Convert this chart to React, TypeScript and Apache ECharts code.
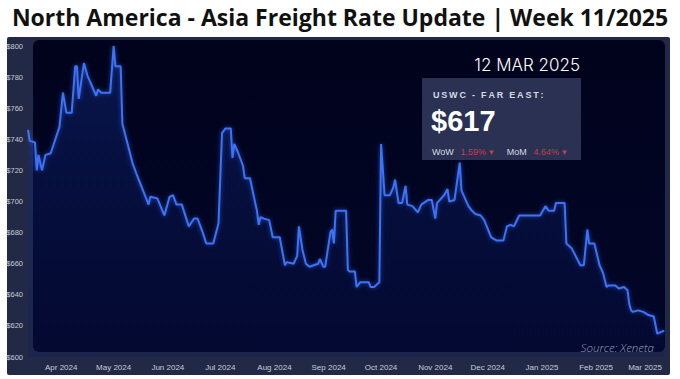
import React, { useEffect, useRef } from "react";
import * as echarts from "echarts";

const titleText = "North America - Asia Freight Rate Update | Week 11/2025";
const dateLabel = "12 MAR 2025";
const laneLabel = "USWC - FAR EAST:";
const currentRate = "$617";
const wowChange = "1.59% ▾";
const momChange = "4.64% ▾";
const sourceText = "Source: Xeneta";

const yTicks = { min: 600, max: 800, step: 20 };
const monthNames = ["Jan", "Feb", "Mar", "Apr", "May", "Jun", "Jul", "Aug", "Sep", "Oct", "Nov", "Dec"];

const dates = [
  "2024-03-13", "2024-03-14", "2024-03-17", "2024-03-18", "2024-03-19", "2024-03-21", "2024-03-23", "2024-03-26",
  "2024-03-31", "2024-04-02", "2024-04-04", "2024-04-07", "2024-04-09", "2024-04-10", "2024-04-11", "2024-04-14",
  "2024-04-16", "2024-04-21", "2024-04-22", "2024-04-24", "2024-04-29", "2024-05-01", "2024-05-02", "2024-05-05",
  "2024-05-06", "2024-05-12", "2024-05-14", "2024-05-21", "2024-05-22", "2024-05-26", "2024-05-30", "2024-06-02",
  "2024-06-04", "2024-06-06", "2024-06-09", "2024-06-13", "2024-06-16", "2024-06-18", "2024-06-21", "2024-06-23",
  "2024-06-27", "2024-06-30", "2024-07-02", "2024-07-04", "2024-07-07", "2024-07-08", "2024-07-09", "2024-07-11",
  "2024-07-14", "2024-07-15", "2024-07-18", "2024-07-21", "2024-07-22", "2024-07-23", "2024-07-24", "2024-07-26",
  "2024-07-29", "2024-07-31", "2024-08-04", "2024-08-07", "2024-08-08", "2024-08-12", "2024-08-14", "2024-08-15",
  "2024-08-17", "2024-08-19", "2024-08-21", "2024-08-26", "2024-08-27", "2024-08-29", "2024-08-30", "2024-09-02",
  "2024-09-03", "2024-09-04", "2024-09-05", "2024-09-11", "2024-09-12", "2024-09-13", "2024-09-16", "2024-09-17",
  "2024-09-19", "2024-09-24", "2024-09-25", "2024-09-27", "2024-09-30", "2024-10-01", "2024-10-03", "2024-10-06",
  "2024-10-08", "2024-10-09", "2024-10-11", "2024-10-13", "2024-10-15", "2024-10-16", "2024-10-19", "2024-10-22",
  "2024-10-24", "2024-10-28", "2024-10-30", "2024-11-01", "2024-11-02", "2024-11-06", "2024-11-08", "2024-11-09",
  "2024-11-12", "2024-11-15", "2024-11-16", "2024-11-20", "2024-11-22", "2024-11-24", "2024-11-27", "2024-11-29",
  "2024-12-03", "2024-12-06", "2024-12-10", "2024-12-12", "2024-12-14", "2024-12-16", "2024-12-19", "2024-12-31",
  "2025-01-03", "2025-01-05", "2025-01-08", "2025-01-09", "2025-01-14", "2025-01-15", "2025-01-18", "2025-01-23",
  "2025-01-25", "2025-01-27", "2025-01-28", "2025-01-31", "2025-02-03", "2025-02-05", "2025-02-07", "2025-02-08",
  "2025-02-12", "2025-02-14", "2025-02-17", "2025-02-19", "2025-02-20", "2025-02-21", "2025-02-22", "2025-02-25",
  "2025-02-28", "2025-03-03", "2025-03-06", "2025-03-08", "2025-03-10", "2025-03-12",
];

const rates = [
  746, 739, 738, 720, 730, 720, 730, 731,
  748, 770, 757, 757, 787, 787, 766, 789,
  781, 768, 772, 770, 770, 800, 787, 787,
  750, 724, 718, 698, 703, 702, 691, 703,
  704, 698, 698, 684, 689, 689, 680, 673,
  673, 686, 744, 747, 747, 728, 737, 732,
  723, 715, 715, 699, 694, 685, 690, 689,
  688, 677, 677, 659, 661, 660, 665, 684,
  669, 660, 658, 660, 663, 658, 658, 680,
  682, 673, 694, 694, 656, 655, 655, 645,
  648, 648, 645, 645, 648, 737, 704, 704,
  709, 714, 699, 699, 710, 698, 697, 693,
  698, 701, 701, 689, 699, 704, 708, 700,
  701, 725, 707, 697, 694, 692, 691, 688,
  677, 675, 675, 684, 685, 684, 691, 691,
  697, 694, 694, 699, 699, 673, 670, 659,
  659, 682, 673, 673, 659, 654, 645, 646,
  646, 644, 645, 643, 634, 630, 629, 630,
  629, 627, 626, 615, 616, 617,
];

export default function App() {
  const ref = useRef<HTMLDivElement>(null);

  useEffect(() => {
    if (!ref.current) return;
    const chart = echarts.init(ref.current, undefined, { renderer: "svg" });
    const seriesData = dates.map((d, i) => [d, rates[i]]);

    chart.setOption({
      animation: false,
      backgroundColor: "#ffffff",
      title: {
        text: titleText,
        left: "center",
        top: 0,
        textStyle: {
          fontFamily: "Open Sans",
          fontWeight: 700,
          fontSize: 23,
          color: "#111111",
        },
      },
      grid: { left: 28, right: 14, top: 46, bottom: 22, containLabel: false },
      xAxis: {
        type: "time",
        min: "2024-03-13",
        max: "2025-03-13",
        splitNumber: 12,
        axisLine: { show: false },
        axisTick: { show: false },
        splitLine: { show: false },
        axisLabel: {
          color: "#c9ccd8",
          fontSize: 8,
          fontFamily: "Liberation Sans",
          margin: 6,
          showMinLabel: false,
          showMaxLabel: false,
          hideOverlap: false,
          formatter: (val: number) => {
            const d = new Date(val);
            return monthNames[d.getMonth()] + " " + d.getFullYear();
          },
        },
      },
      yAxis: {
        type: "value",
        min: yTicks.min,
        max: yTicks.max,
        interval: yTicks.step,
        axisLine: { show: false },
        axisTick: { show: false },
        splitLine: { show: false },
        axisLabel: {
          color: "#c9ccd8",
          fontSize: 7.5,
          fontFamily: "Liberation Sans",
          margin: 5,
          formatter: (v: number) => "$" + v,
        },
      },
      graphic: [
        {
          type: "rect",
          z: -20,
          silent: true,
          shape: { x: 7, y: 37, width: 663, height: 338, r: 2 },
          style: { fill: "#212946" },
        },
        {
          type: "rect",
          z: -10,
          silent: true,
          shape: { x: 33, y: 40, width: 632, height: 312, r: 6 },
          style: {
            fill: new echarts.graphic.LinearGradient(0, 0, 0, 1, [
              { offset: 0, color: "#01031c" },
              { offset: 1, color: "#020628" },
            ]),
          },
        },
        {
          type: "text",
          z: 100,
          silent: true,
          x: 580,
          y: 65,
          style: {
            text: dateLabel,
            fill: "#ffffff",
            fontFamily: "Inter",
            fontWeight: 300,
            fontSize: 17,
            align: "right",
            verticalAlign: "middle",
          },
        },
        {
          type: "rect",
          z: 100,
          silent: true,
          shape: { x: 422, y: 78, width: 159, height: 82 },
          style: { fill: "rgba(44,52,86,0.95)" },
        },
        {
          type: "text",
          z: 101,
          silent: true,
          x: 433,
          y: 95,
          style: {
            text: laneLabel.split("").join("\u2009"),
            fill: "#d6d9e4",
            fontFamily: "Liberation Sans",
            fontWeight: 700,
            fontSize: 9,
            align: "left",
            verticalAlign: "middle",
          },
        },
        {
          type: "text",
          z: 101,
          silent: true,
          x: 431,
          y: 121,
          style: {
            text: currentRate,
            fill: "#ffffff",
            fontFamily: "Liberation Sans",
            fontWeight: 700,
            fontSize: 29,
            align: "left",
            verticalAlign: "middle",
          },
        },
        {
          type: "text",
          z: 101,
          silent: true,
          x: 432,
          y: 152,
          style: {
            text: "{w|WoW}  {r|" + wowChange + "}    {w|MoM}  {r|" + momChange + "}",
            align: "left",
            verticalAlign: "middle",
            rich: {
              w: { fill: "#d6d9e4", fontSize: 9, fontFamily: "Liberation Sans" },
              r: { fill: "#c83a4e", fontSize: 9, fontFamily: "Liberation Sans" },
            },
          },
        },
        {
          type: "text",
          z: 101,
          silent: true,
          x: 654,
          y: 347,
          style: {
            text: sourceText,
            fill: "#9da3b8",
            fontFamily: "Open Sans",
            fontStyle: "italic",
            fontWeight: 300,
            fontSize: 11.5,
            align: "right",
            verticalAlign: "middle",
          },
        },
      ],
      series: [
        {
          type: "line",
          data: seriesData,
          showSymbol: false,
          symbol: "none",
          z: 5,
          lineStyle: {
            color: "#3d72f6",
            width: 2,
            shadowBlur: 4,
            shadowColor: "rgba(60,110,255,0.6)",
          },
          areaStyle: {
            color: new echarts.graphic.LinearGradient(0, 0, 0, 1, [
              { offset: 0, color: "rgba(22,55,160,0.55)" },
              { offset: 1, color: "rgba(8,22,90,0.25)" },
            ]),
            origin: "start",
          },
        },
      ],
    });

    return () => chart.dispose();
  }, []);

  return (
    <div
      ref={ref}
      style={{ position: "fixed", left: 0, top: 0, width: 680, height: 379 }}
    />
  );
}
